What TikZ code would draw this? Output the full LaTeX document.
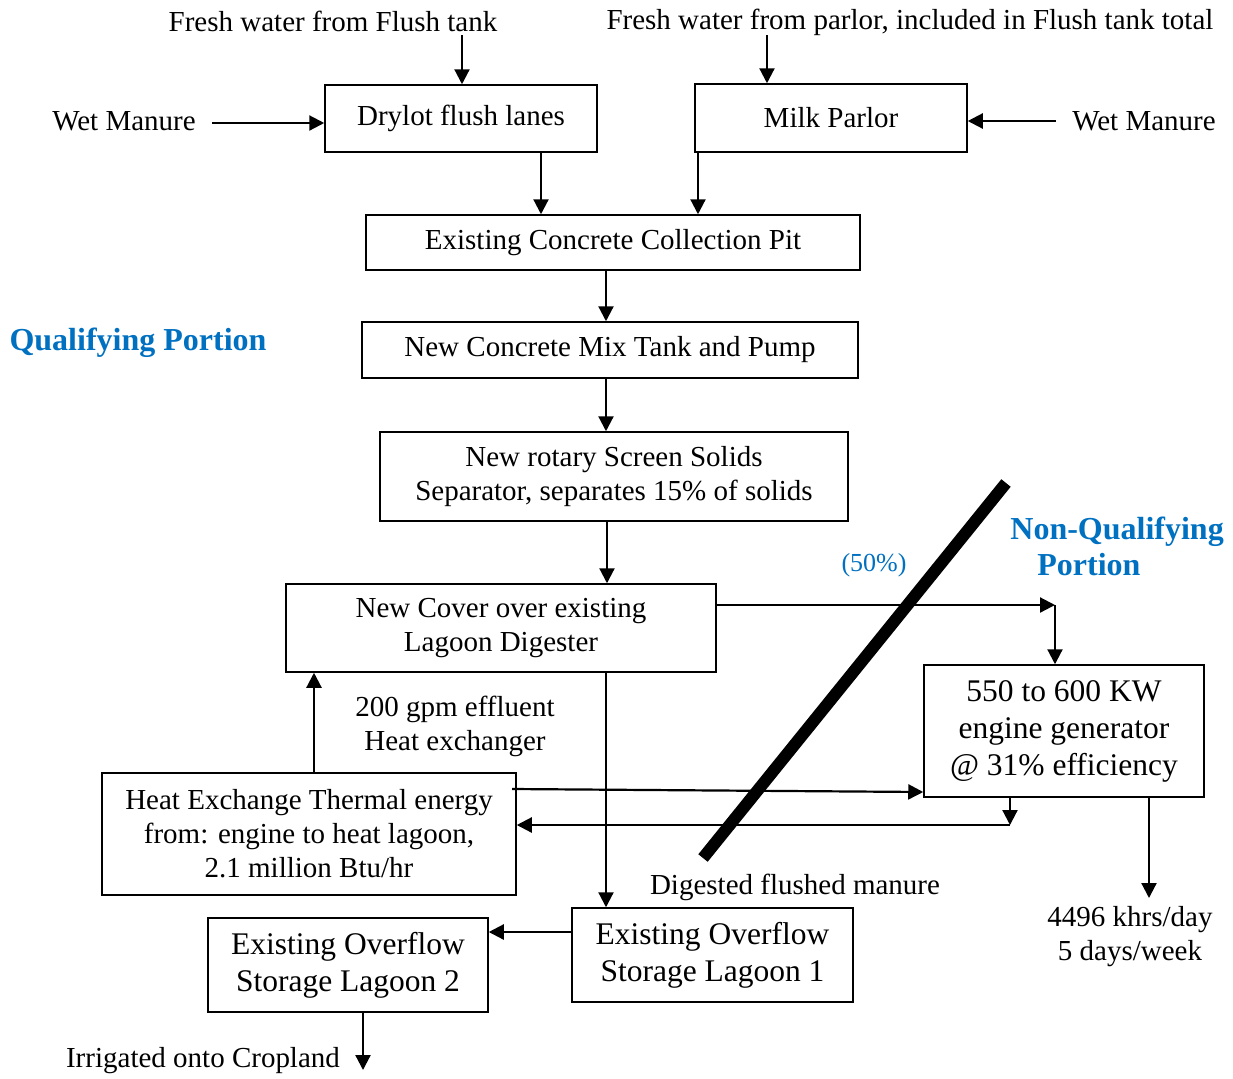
\documentclass[tikz,border=0pt]{standalone}
\usepackage{fontspec}
\setmainfont{Liberation Serif}
\usetikzlibrary{arrows.meta}
\definecolor{portionblue}{RGB}{0,112,192}
\begin{document}
\begin{tikzpicture}
[x=0.5pt,y=-0.5pt,%
  boxdecorate/.style={shape=rectangle,draw,line width=0.75pt,align=center,inner sep=0pt,font=\fontsize{14.5}{17}\selectfont},%
  bigboxdecorate/.style={boxdecorate,font=\fontsize{15.75}{18.5}\selectfont},%
  textdecorate/.style={align=center,inner sep=0pt,font=\fontsize{14.5}{17}\selectfont},%
  portiondecorate/.style={align=left,inner sep=0pt,text=portionblue,font=\fontsize{16}{18}\selectfont\bfseries},%
  linedecorate/.style={-{Triangle[length=7.5pt,width=7.5pt]},line width=1.1pt},%
  barrierdecorate/.style={-,line width=6pt}]
\useasboundingbox (0,0) rectangle (1233,1078);
%% boxes
\foreach \nodename/\x/\y/\w/\h/\boxtext in {
  drylot/461/118.5/272/67/{Drylot flush lanes},
  parlor/831/118/272/68/{Milk Parlor},
  pit/613/242.5/494/55/{Existing Concrete Collection Pit},
  mix/610/350/496/56/{New Concrete Mix Tank and Pump},
  screen/614/476.5/468/89/{New rotary Screen Solids\\Separator, separates 15\% of solids},
  cover/501/628/430/88/{New Cover over existing\\Lagoon Digester},
  heatx/309/834/414/122/{Heat Exchange Thermal energy\\from: engine to heat lagoon,\\2.1 million Btu/hr}} {
  \node (\nodename) at (\x,\y) [boxdecorate,minimum width=\w*0.5pt,minimum height=\h*0.5pt] {\boxtext};
}
\foreach \nodename/\x/\y/\w/\h/\boxtext in {
  engine/1064/731/280/132/{550 to 600 KW\\engine generator\\@ 31\% efficiency},
  lagoonone/712.5/955/281/94/{Existing Overflow\\Storage Lagoon 1},
  lagoontwo/348/965/280/94/{Existing Overflow\\Storage Lagoon 2}} {
  \node (\nodename) at (\x,\y) [bigboxdecorate,minimum width=\w*0.5pt,minimum height=\h*0.5pt] {\boxtext};
}
%% free texts
\foreach \nodename/\x/\y/\labeltext in {
  freshflush/333/21/{Fresh water from Flush tank},
  freshparlor/910/22/{Fresh water from parlor, included in Flush tank total},
  wetleft/124/121/{Wet Manure},
  wetright/1144/121/{Wet Manure},
  effluent/455/726/{200 gpm effluent\\Heat exchanger},
  digested/795/887/{Digested flushed manure},
  khrs/1130/937/{4496 khrs/day\\5 days/week},
  irrigated/203/1061/{Irrigated onto Cropland}} {
  \node (\nodename) at (\x,\y) [textdecorate] {\labeltext};
}
\node (qualify) at (138,343) [portiondecorate] {Qualifying Portion};
\node (nonqualify) at (1010,546) [portiondecorate,anchor=west] {Non-Qualifying\\\hspace*{13.5pt}Portion};
\node (fifty) at (874,565) [textdecorate,text=portionblue,font=\fontsize{13}{15}\selectfont] {(50\%)};
%% free ends and turns
\coordinate (flushin) at (462,35);
\coordinate (parlorin) at (767,35);
\coordinate (wetleftout) at (212,123);
\coordinate (wetrightout) at (1056,121);
\coordinate (gasturn) at (1055,605);
\coordinate (heatturn) at (1010,825);
\coordinate (powerout) at (1149,898);
\coordinate (irrigateout) at (363,1070);
%% edges going down
\path
\foreach \xpos/\startnode/\endnode in {
  541/drylot/pit, 698/parlor/pit, 606/pit/mix, 606/mix/screen,
  607/screen/cover, 606/cover/lagoonone} {
  (\xpos,0 |- \startnode.south) edge[linedecorate] (\xpos,0 |- \endnode.north)
};
%% other edges
\draw[linedecorate] (flushin) -- (flushin |- drylot.north);
\draw[linedecorate] (parlorin) -- (parlorin |- parlor.north);
\draw[linedecorate] (wetleftout) -- (wetleftout -| drylot.west);
\draw[linedecorate] (wetrightout) -- (wetrightout -| parlor.east);
\draw[linedecorate] (cover.east |- gasturn) -- (gasturn);
\draw[linedecorate] (gasturn) -- (gasturn |- engine.north);
\draw[linedecorate] (314,0 |- heatx.north) -- (314,0 |- cover.south);
\draw[linedecorate] (512,789) -- (engine.west |- 0,792);
\draw[linedecorate] (heatturn |- engine.south) -- (heatturn);
\draw[linedecorate] (heatturn) -- (heatturn -| heatx.east);
\draw[linedecorate] (powerout |- engine.south) -- (powerout);
\draw[linedecorate] (lagoonone.west |- 0,932) -- (lagoontwo.east |- 0,932);
\draw[linedecorate] (irrigateout |- lagoontwo.south) -- (irrigateout);
%% barrier line
\draw[barrierdecorate] (1006,483) -- (703,858);
\end{tikzpicture}
\end{document}
